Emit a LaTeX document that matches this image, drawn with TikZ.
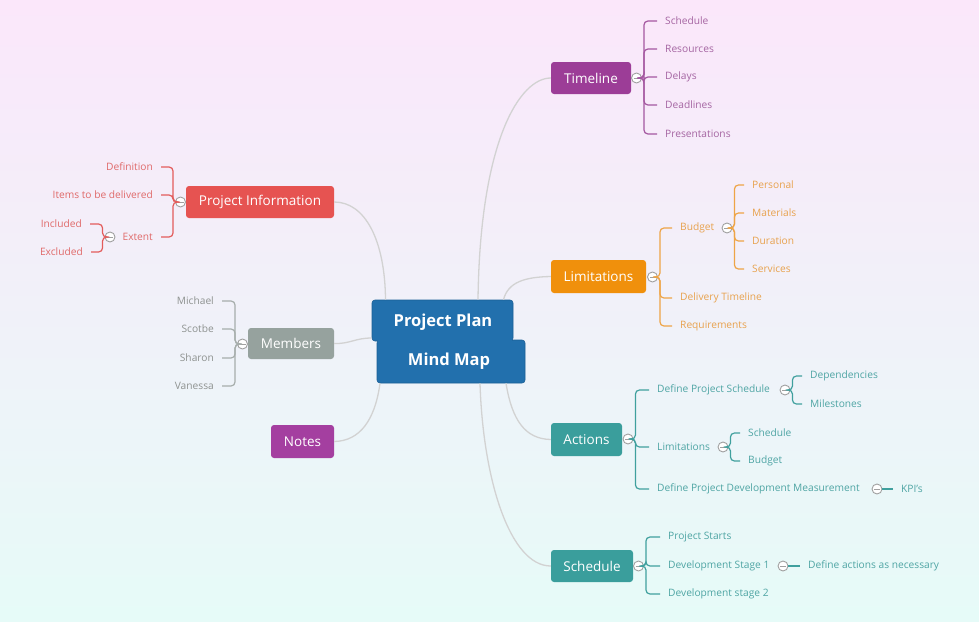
\documentclass[tikz,border=0pt]{standalone}
\usepackage{fontspec}
\setmainfont{Open Sans}
\usetikzlibrary{calc}
\definecolor{bgtop}{HTML}{FBE7FA}
\definecolor{bgbot}{HTML}{E6FBF8}
\definecolor{cpurple}{HTML}{9C3D97}
\definecolor{cnotes}{HTML}{A43FA0}
\definecolor{corange}{HTML}{F0900C}
\definecolor{cteal}{HTML}{3A9E9C}
\definecolor{cred}{HTML}{E65351}
\definecolor{cgray}{HTML}{96A29E}
\definecolor{cblue}{HTML}{2270AD}
\definecolor{cbluedark}{HTML}{1B5F96}
\definecolor{tpurple}{HTML}{A565A2}
\definecolor{torange}{HTML}{E8A24E}
\definecolor{tteal}{HTML}{4FA5A4}
\definecolor{tred}{HTML}{E06A6A}
\definecolor{tgray}{HTML}{8E9290}
\definecolor{lpurple}{HTML}{A457A0}
\definecolor{lorange}{HTML}{EEA446}
\definecolor{lteal}{HTML}{40A09E}
\definecolor{lred}{HTML}{E35C5B}
\definecolor{lgray}{HTML}{A6ADAB}
\definecolor{togc}{HTML}{A0A0A0}
\definecolor{conn}{HTML}{D2D2D2}
\tikzset{
  mainbox/.style={rounded corners=3pt, text=white, font=\fontsize{13.5}{16}\selectfont, inner sep=0pt},
  central/.style={rounded corners=3pt, fill=cblue, draw=cbluedark, line width=0.6pt, text=white, font=\fontsize{16.5}{19}\bfseries\selectfont, inner sep=0pt},
  leaf/.style={font=\fontsize{10.2}{12}\selectfont, inner xsep=8pt, inner ysep=1pt},
  leafr/.style={leaf, anchor=west},
  leafl/.style={leaf, anchor=east},
  tog/.style={circle, draw=togc, fill=white, minimum size=10pt, inner sep=0pt, line width=0.9pt,
    path picture={\draw[togc, line width=0.9pt] ([xshift=2pt]path picture bounding box.west) -- ([xshift=-2pt]path picture bounding box.east);}},
  br/.style={line width=1.2pt, rounded corners=4pt},
  cn/.style={draw=conn, line width=1.3pt}
}
\begin{document}
\begin{tikzpicture}[x=1pt,y=-1pt]
\shade[top color=bgtop, bottom color=bgbot] (0,0) rectangle (979,621);
\useasboundingbox (0,0) rectangle (979,621);

% central node
\node[central, minimum width=148pt, minimum height=43pt] (pp2) at (451,361.5) {};
\node[central, minimum width=141pt, minimum height=41pt] (pp1) at (442.5,320.5) {};
\fill[cblue] (378,339) rectangle (512,343);
\node[text=white, font=\fontsize{16.5}{19}\bfseries\selectfont] (t1) at (443,322) {Project Plan};
\node[text=white, font=\fontsize{16.5}{19}\bfseries\selectfont] (t2) at (449,361) {Mind Map};

% main nodes
\node[mainbox, fill=cpurple, minimum width=80pt, minimum height=32pt] (tl) at (591,78) {Timeline};
\node[mainbox, fill=corange, minimum width=95pt, minimum height=33pt] (li) at (598.5,276.5) {Limitations};
\node[mainbox, fill=cteal, minimum width=71pt, minimum height=33pt] (ac) at (586.5,439.5) {Actions};
\node[mainbox, fill=cteal, minimum width=82pt, minimum height=32pt] (sc) at (592,566) {Schedule};
\node[mainbox, fill=cred, minimum width=148pt, minimum height=32pt] (pi) at (260,202) {Project Information};
\node[mainbox, fill=cgray, minimum width=86pt, minimum height=31pt] (me) at (291,343.5) {Members};
\node[mainbox, fill=cnotes, minimum width=63pt, minimum height=33pt] (no) at (302.5,441.5) {Notes};

% central connectors
\draw[cn] ($(pp1.north)+(35.5,0)$) .. controls (480,140) and (520,78) .. (tl.west);
\draw[cn] ($(pp1.north)+(61,0)$) .. controls (508,282) and (525,277) .. (li.west);
\draw[cn] ($(pp1.north)+(-57,0)$) .. controls (385,240) and (365,202) .. (pi.east);
\draw[cn] ($(pp1.west)+(0,17.5)$) .. controls (355,338) and (350,344) .. (me.east);
\draw[cn] ($(pp2.south)+(-71,0)$) .. controls (375,420) and (360,441) .. (no.east);
\draw[cn] ($(pp2.south)+(55,0)$) .. controls (512,420) and (525,439) .. (ac.west);
\draw[cn] ($(pp2.south)+(29,0)$) .. controls (483,480) and (510,566) .. (sc.west);

% ---------- Timeline
\node[tog] (tlc) at (636.5,78) {};
\node[leafr, text=tpurple] (tl1) at (657,21) {Schedule};
\node[leafr, text=tpurple] (tl2) at (657,49) {Resources};
\node[leafr, text=tpurple] (tl3) at (657,77) {Delays};
\node[leafr, text=tpurple] (tl4) at (657,105) {Deadlines};
\node[leafr, text=tpurple] (tl5) at (657,134) {Presentations};
\foreach \n in {tl1,tl2,tl3,tl4,tl5} \draw[br, lpurple] (tlc.east) -- ++(2,0) |- (\n.west);

% ---------- Limitations
\node[tog] (lic) at (652.5,277) {};
\node[leafr, text=torange] (li1) at (672,228) {Budget};
\node[leafr, text=torange] (li2) at (672,298) {Delivery Timeline};
\node[leafr, text=torange] (li3) at (672,326) {Requirements};
\foreach \n in {li1,li2,li3} \draw[br, lorange] (lic.east) -- ++(2,0) |- (\n.west);
\node[tog] (buc) at (727,228) {};
\node[leafr, text=torange] (bu1) at (744,185) {Personal};
\node[leafr, text=torange] (bu2) at (744,213) {Materials};
\node[leafr, text=torange] (bu3) at (744,241) {Duration};
\node[leafr, text=torange] (bu4) at (744,269) {Services};
\foreach \n in {bu1,bu2,bu3,bu4} \draw[br, lorange] (buc.east) -- ++(2,0) |- (\n.west);

% ---------- Actions
\node[tog] (acc) at (628,439) {};
\node[leafr, text=tteal] (ac1) at (649,390) {Define Project Schedule};
\node[leafr, text=tteal] (ac2) at (649,447) {Limitations};
\node[leafr, text=tteal] (ac3) at (649,489) {Define Project Development Measurement};
\foreach \n in {ac1,ac2,ac3} \draw[br, lteal] (acc.east) -- ++(2,0) |- (\n.west);
\node[tog] (dpsc) at (785,390) {};
\node[leafr, text=tteal] (ds1) at (802,376) {Dependencies};
\node[leafr, text=tteal] (ds2) at (802,404) {Milestones};
\foreach \n in {ds1,ds2} \draw[br, lteal] (dpsc.east) -- ++(2,0) |- (\n.west);
\node[tog] (lmc) at (723,447) {};
\node[leafr, text=tteal] (lm1) at (740,433) {Schedule};
\node[leafr, text=tteal] (lm2) at (740,461) {Budget};
\foreach \n in {lm1,lm2} \draw[br, lteal] (lmc.east) -- ++(2,0) |- (\n.west);
\node[tog] (dmc) at (877,489) {};
\node[leafr, text=tteal] (kpi) at (893,489) {KPI's};
\draw[br, lteal] (dmc.east) -- (kpi.west);

% ---------- Schedule
\node[tog] (scc) at (638.5,566) {};
\node[leafr, text=tteal] (sc1) at (660,537) {Project Starts};
\node[leafr, text=tteal] (sc2) at (660,566) {Development Stage 1};
\node[leafr, text=tteal] (sc3) at (660,594) {Development stage 2};
\foreach \n in {sc1,sc2,sc3} \draw[br, lteal] (scc.east) -- ++(2,0) |- (\n.west);
\node[tog] (d1c) at (783,566) {};
\node[leafr, text=tteal] (dan) at (800,566) {Define actions as necessary};
\draw[br, lteal] (d1c.east) -- (dan.west);

% ---------- Project Information
\node[tog] (pic) at (180.5,202) {};
\node[leafl, text=tred] (pi1) at (161,167) {Definition};
\node[leafl, text=tred] (pi2) at (161,195) {Items to be delivered};
\node[leafl, text=tred] (pi3) at (161,237) {Extent};
\foreach \n in {pi1,pi2,pi3} \draw[br, lred] (pic.west) -- ++(-2,0) |- (\n.east);
\node[tog] (exc) at (110,237) {};
\node[leafl, text=tred] (ex1) at (90,224) {Included};
\node[leafl, text=tred] (ex2) at (91,252) {Excluded};
\foreach \n in {ex1,ex2} \draw[br, lred] (exc.west) -- ++(-2,0) |- (\n.east);

% ---------- Members
\node[tog] (mec) at (242.5,344) {};
\node[leafl, text=tgray] (me1) at (222,301) {Michael};
\node[leafl, text=tgray] (me2) at (222,329) {Scotbe};
\node[leafl, text=tgray] (me3) at (222,358) {Sharon};
\node[leafl, text=tgray] (me4) at (222,386) {Vanessa};
\foreach \n in {me1,me2,me3,me4} \draw[br, lgray] (mec.west) -- ++(-2,0) |- (\n.east);
\end{tikzpicture}
\end{document}
